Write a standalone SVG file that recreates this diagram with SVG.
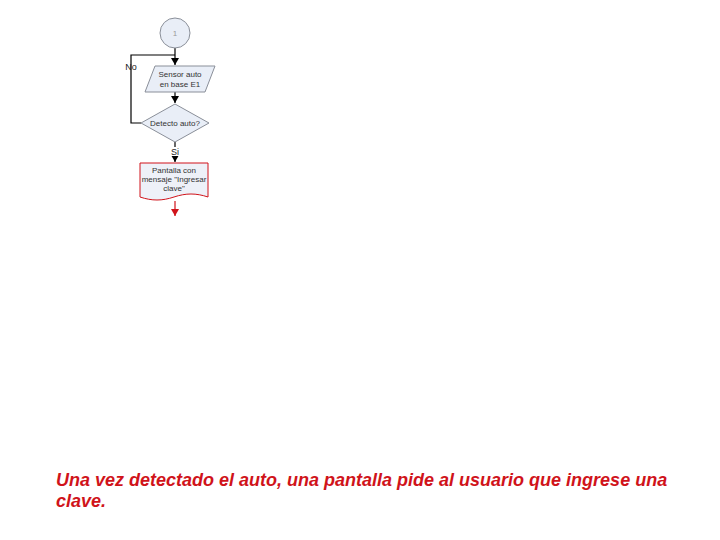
<svg xmlns="http://www.w3.org/2000/svg" width="720" height="540" viewBox="0 0 720 540">
<style>
.n{fill:#e9eef7;stroke:#8a8f99;stroke-width:1}
.t{font-family:"Liberation Sans",Arial,sans-serif;font-size:8px;fill:#333;text-anchor:middle}
.c{fill:none;stroke:#000;stroke-width:1.2}
.r{fill:none;stroke:#d0131a;stroke-width:1.2}
.cap{font-family:"Liberation Sans",Arial,sans-serif;font-size:18px;font-weight:bold;font-style:italic;fill:#d0131a}
</style>
<defs>
<marker id="a" markerWidth="8" markerHeight="8" refX="7" refY="4" orient="auto" markerUnits="userSpaceOnUse"><path d="M0,0 L7,4 L0,8 z" fill="#000"/></marker>
<marker id="ar" markerWidth="8" markerHeight="8" refX="7" refY="4" orient="auto" markerUnits="userSpaceOnUse"><path d="M0,0 L7,4 L0,8 z" fill="#d0131a"/></marker>
</defs>
<rect width="720" height="540" fill="#fff"/>
<g id="connectors">
<path class="c" d="M175,48 V65" marker-end="url(#a)"/>
<path class="c" d="M141,123 H131 V55 H175"/>
<path class="c" d="M175,92 V103" marker-end="url(#a)"/>
<path class="c" d="M175,142 V162" marker-end="url(#a)"/>
<path class="r" d="M175,201 V216" marker-end="url(#ar)"/>
<text class="t" x="131" y="70" style="fill:#222;font-size:9px">No</text>
<rect x="170" y="147" width="10" height="9" fill="#fff"/>
<text class="t" x="175" y="155" style="fill:#222;font-size:9px">Si</text>
</g>
<g id="start">
<circle class="n" cx="175" cy="33" r="15"/>
<text class="t" x="175" y="36" style="fill:#999">1</text>
</g>
<g id="sensor">
<polygon class="n" points="155,66 215,66 205,92 145,92"/>
<text class="t" x="180" y="77">Sensor auto</text>
<text class="t" x="180" y="87">en base E1</text>
</g>
<g id="detecto">
<polygon class="n" points="175,104 209,123 175,142 141,123"/>
<text class="t" x="175" y="126">Detecto auto?</text>
</g>
<g id="pantalla">
<path d="M140,163 H208 V197 C196,193 186,193 174,197 C162,201 152,201 140,197 Z" fill="#eef1f8" stroke="#d0131a" stroke-width="1"/>
<text class="t" x="174" y="173">Pantalla con</text>
<text class="t" x="174" y="182">mensaje "Ingresar</text>
<text class="t" x="174" y="191">clave"</text>
</g>
<text class="cap" x="56" y="486">Una vez detectado el auto, una pantalla pide al usuario que ingrese una</text>
<text class="cap" x="56" y="507">clave.</text>
</svg>
